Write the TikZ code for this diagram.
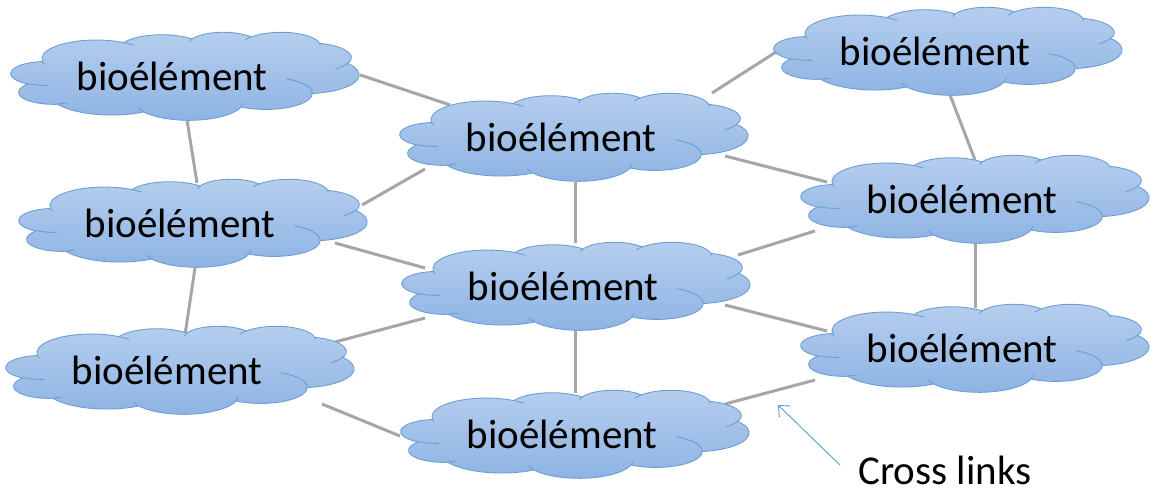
\documentclass[tikz,border=0pt]{standalone}
\usepackage{fontspec}
\setmainfont{Carlito}
\usetikzlibrary{arrows.meta,calc}
\definecolor{cloudtop}{RGB}{182,206,238}
\definecolor{cloudbot}{RGB}{141,179,227}
\definecolor{cloudline}{RGB}{108,158,214}
\definecolor{linkgray}{RGB}{166,166,166}
\definecolor{arrowblue}{RGB}{91,155,213}
\pgfdeclarelayer{links}
\pgfdeclarelayer{clouds}
\pgfsetlayers{links,clouds,main}
\tikzset{
  biotext/.style={rectangle, minimum width=348pt, minimum height=88pt, inner sep=0pt,
    font=\fontsize{41}{48}\selectfont, text=black},
  cloudbody/.style={top color=cloudtop, bottom color=cloudbot, draw=cloudline, line width=0.9pt},
  puffline/.style={draw=cloudline, line width=0.9pt},
  link/.style={draw=linkgray, line width=3pt},
  note/.style={font=\fontsize{41}{48}\selectfont, inner sep=0pt},
  callout/.style={draw=arrowblue, line width=0.9pt, -{Straight Barb[length=9pt,width=16pt]}}
}
\newcommand{\bioel}{bioélément\hspace*{26pt}}
\newcommand{\pptcloud}[1]{%
  \begin{scope}[shift={#1}, x=0.80556pt, y=-0.20370pt, shift={(-216,-216)}]
    \path[cloudbody] (39.00,143.70)
      arc[start angle=-187.745, end angle=-59.635, x radius=67.53, y radius=91.90]
      arc[start angle=-152.03, end angle=-45.46, x radius=53.33, y radius=72.67]
      arc[start angle=-153.49, end angle=-37.33, x radius=43.65, y radius=59.45]
      arc[start angle=-139.71, end angle=-10.21, x radius=48.57, y radius=65.95]
      arc[start angle=-74.77, end angle=23.21, x radius=53.33, y radius=72.73]
      arc[start angle=-37.52, end angle=81.86, x radius=67.75, y radius=92.20]
      arc[start angle=0.46, end angle=121.98, x radius=57.85, y radius=78.67]
      arc[start angle=16.84, end angle=146.23, x radius=67.52, y radius=92.15]
      arc[start angle=58.99, end angle=150.18, x radius=77.20, y radius=105.43]
      arc[start angle=-276.69, end angle=-136.90, x radius=43.60, y radius=59.18]
      arc[start angle=-239.65, end angle=-95.89, x radius=43.45, y radius=59.45]
      -- cycle;
    \path[puffline]
      (46.93,261.77) arc[start angle=85.55, end angle=120.35, x radius=43.45, y radius=59.45]
      (69.28,348.99) arc[start angle=68.23, end angle=83.31, x radius=43.60, y radius=59.18]
      (164.78,390.90) arc[start angle=146.23, end angle=158.47, x radius=67.52, y radius=92.15]
      (288.27,347.51) arc[start angle=4.74, end angle=16.84, x radius=67.52, y radius=92.15]
      (341.29,229.54) arc[start angle=-64.03, end angle=0.46, x radius=57.85, y radius=78.67]
      (417.98,153.54) arc[start angle=23.21, end angle=49.64, x radius=53.33, y radius=72.73]
      (383.24,54.26) arc[start angle=-10.21, end angle=0.82, x radius=48.57, y radius=65.95]
      (290.78,39.52) arc[start angle=-156.29, end angle=-139.72, x radius=48.57, y radius=65.95]
      (221.41,47.20) arc[start angle=-167.73, end angle=-153.49, x radius=43.65, y radius=59.45]
      (140.00,51.92) arc[start angle=-59.635, end angle=-45.74, x radius=67.53, y radius=91.90]
      (41.27,157.89) arc[start angle=163.20, end angle=172.255, x radius=67.53, y radius=91.90];
  \end{scope}}
\begin{document}
\begin{tikzpicture}[x=1pt,y=-1pt]
\useasboundingbox (0,0) rectangle (1151,492);
\node[biotext] (n1) at (185,76) {\bioel};
\node[biotext] (n2) at (193,223) {\bioel};
\node[biotext] (n3) at (180,370) {\bioel};
\node[biotext] (n4) at (574,137) {\bioel};
\node[biotext] (n5) at (576,286) {\bioel};
\node[biotext] (n6) at (575,434) {\bioel};
\node[biotext] (n7) at (948,51) {\bioel};
\node[biotext] (n8) at (975,199) {\bioel};
\node[biotext] (n9) at (975,348) {\bioel};
\node[note, anchor=base] (cross) at (945,484) {Cross links};
\coordinate (tail) at (840,465);
\coordinate (tip) at (778,405);
\begin{pgfonlayer}{clouds}
\foreach \n in {n1,n2,n3,n4,n5,n6,n7,n8,n9} {\pptcloud{(\n)}}
\end{pgfonlayer}
\begin{pgfonlayer}{links}
\draw[link] ($(n1)+(2,44)$) -- ($(n2)+(4,-40)$);
\draw[link] ($(n2)+(2,45)$) -- ($(n3)+(5,-35)$);
\draw[link] ($(n1)+(175,-1)$) -- ($(n4)+(-124,-32)$);
\draw[link] ($(n2)+(169,-18)$) -- ($(n4)+(-149,32)$);
\draw[link] ($(n2)+(142,20)$) -- ($(n5)+(-151,-18)$);
\draw[link] ($(n3)+(155,-28)$) -- ($(n5)+(-151,32)$);
\draw[link] ($(n3)+(142,34)$) -- ($(n6)+(-175,2)$);
\draw[link] ($(n4)+(1,45)$) -- ($(n5)+(-1,-43)$);
\draw[link] ($(n5)+(-1,44)$) -- ($(n6)+(0,-41)$);
\draw[link] ($(n4)+(138,-44)$) -- ($(n7)+(-172,1)$);
\draw[link] ($(n4)+(151,19)$) -- ($(n8)+(-148,-17)$);
\draw[link] ($(n5)+(162,-31)$) -- ($(n8)+(-160,32)$);
\draw[link] ($(n5)+(149,19)$) -- ($(n9)+(-148,-17)$);
\draw[link] ($(n6)+(150,-30)$) -- ($(n9)+(-160,32)$);
\draw[link] ($(n7)+(2,44)$) -- ($(n8)+(0,-39)$);
\draw[link] ($(n8)+(0,44)$) -- ($(n9)+(0,-40)$);
\end{pgfonlayer}
\draw[callout] (tail) -- (tip);
\end{tikzpicture}
\end{document}
